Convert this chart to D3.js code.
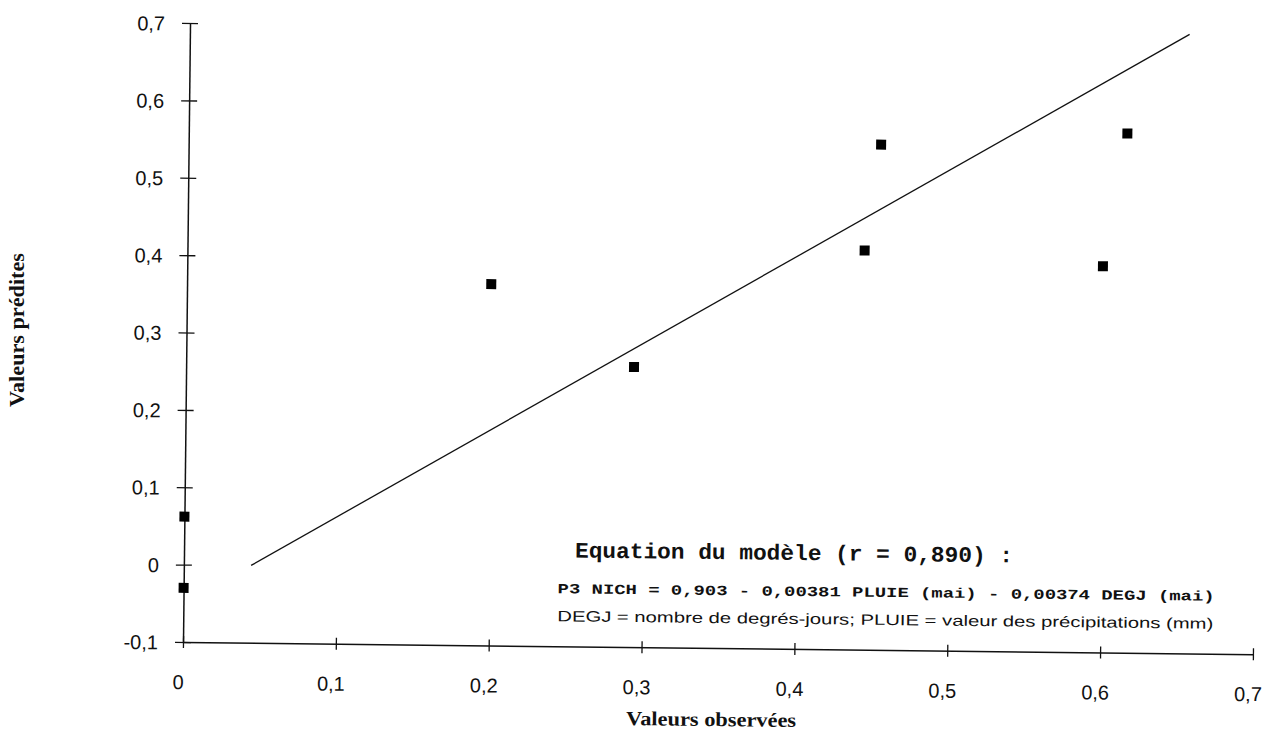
<!DOCTYPE html>
<html>
<head>
<meta charset="utf-8">
<script src="https://cdn.jsdelivr.net/npm/d3@7/dist/d3.min.js"></script>
<style>
  html, body { margin: 0; padding: 0; background: #fff; }
  svg { display: block; }
</style>
</head>
<body>
<svg id="chart" width="1273" height="735"></svg>
<script>
// ---- data ----
const xTickValues = [0, 0.1, 0.2, 0.3, 0.4, 0.5, 0.6, 0.7];
const xTickLabels = ["0", "0,1", "0,2", "0,3", "0,4", "0,5", "0,6", "0,7"];
const yTickValues = [-0.1, 0, 0.1, 0.2, 0.3, 0.4, 0.5, 0.6, 0.7];
const yTickLabels = ["-0,1", "0", "0,1", "0,2", "0,3", "0,4", "0,5", "0,6", "0,7"];
const observed  = [0, 0, 0.199, 0.293, 0.443, 0.453, 0.599, 0.614];
const predicted = [0.062, -0.030, 0.367, 0.262, 0.416, 0.553, 0.399, 0.571];
const fitX = [0.044, 0.654];
const fitY = [0.0, 0.70];
const xTitle = "Valeurs observées";
const yTitle = "Valeurs prédites";
const eqTitle = "Equation du modèle (r = 0,890) :";
const eqLine = "P3 NICH = 0,903 - 0,00381 PLUIE (mai) - 0,00374 DEGJ (mai)";
const eqNote = "DEGJ = nombre de degrés-jours; PLUIE = valeur des précipitations (mm)";

// ---- layout ----
const svg = d3.select("#chart");
const x0 = 183, y0 = 642;
const x = d3.scaleLinear().domain([0, 0.7]).range([x0, 1253]);
const y = d3.scaleLinear().domain([-0.1, 0.7]).range([y0, 23]);

// slight scan tilt as in the reference
const g = svg.append("g").attr("transform", `rotate(0.65, ${x0}, ${y0})`);

const sansFont = "'Liberation Sans', Arial, sans-serif";
const serifFont = "'Liberation Serif', 'Times New Roman', serif";
const monoFont = "'Liberation Mono', 'Courier New', monospace";

// y axis
const yAxis = d3.axisLeft(y)
  .tickValues(yTickValues)
  .tickFormat((d, i) => yTickLabels[i])
  .tickSizeInner(8).tickSizeOuter(0);
const gy = g.append("g").attr("transform", `translate(${x(0)},0)`).call(yAxis);
gy.select(".domain").attr("stroke", "#111").attr("stroke-width", 1.5);
gy.selectAll(".tick line").attr("x1", -8).attr("x2", 8).attr("stroke", "#111").attr("stroke-width", 1.3);
gy.selectAll(".tick text")
  .attr("x", -25).attr("dy", "0.36em")
  .attr("font-family", sansFont)
  .attr("font-size", 20).attr("fill", "#111");

// x axis
const xAxis = d3.axisBottom(x)
  .tickValues(xTickValues)
  .tickFormat((d, i) => xTickLabels[i])
  .tickSizeInner(6).tickSizeOuter(0);
const gx = g.append("g").attr("transform", `translate(0,${y(-0.1)})`).call(xAxis);
gx.select(".domain").attr("stroke", "#111").attr("stroke-width", 1.5);
gx.selectAll(".tick line").attr("y1", -6).attr("y2", 6).attr("stroke", "#111").attr("stroke-width", 1.3);
gx.selectAll(".tick text")
  .attr("x", -5).attr("y", 47).attr("dy", 0)
  .attr("font-family", sansFont)
  .attr("font-size", 20).attr("fill", "#111");

// regression line
g.append("path")
  .datum(fitX.map((v, i) => [v, fitY[i]]))
  .attr("fill", "none").attr("stroke", "#111").attr("stroke-width", 1.3)
  .attr("d", d3.line().x(d => x(d[0])).y(d => y(d[1])));

// points
const sz = 10;
g.selectAll("rect.pt")
  .data(observed.map((v, i) => [v, predicted[i]]))
  .join("rect").attr("class", "pt")
  .attr("x", d => x(d[0]) - sz / 2)
  .attr("y", d => y(d[1]) - sz / 2)
  .attr("width", sz).attr("height", sz)
  .attr("fill", "#000");

// equation block
g.append("text")
  .attr("x", 574).attr("y", 553)
  .attr("font-family", monoFont)
  .attr("font-weight", "bold").attr("font-size", 22)
  .attr("textLength", 438).attr("lengthAdjust", "spacingAndGlyphs")
  .attr("fill", "#111").text(eqTitle);
g.append("text")
  .attr("x", 557).attr("y", 589)
  .attr("font-family", monoFont)
  .attr("font-weight", "bold").attr("font-size", 14)
  .attr("textLength", 657).attr("lengthAdjust", "spacingAndGlyphs")
  .attr("fill", "#111").text(eqLine);
g.append("text")
  .attr("x", 557).attr("y", 617)
  .attr("font-family", sansFont)
  .attr("font-size", 15)
  .attr("textLength", 656).attr("lengthAdjust", "spacingAndGlyphs")
  .attr("fill", "#111").text(eqNote);

// axis titles
g.append("text")
  .attr("x", 712).attr("y", 720).attr("text-anchor", "middle")
  .attr("font-family", serifFont)
  .attr("font-weight", "bold").attr("font-size", 20)
  .attr("textLength", 170).attr("lengthAdjust", "spacingAndGlyphs")
  .attr("fill", "#111").text(xTitle);
svg.append("text")
  .attr("transform", "translate(24,330) rotate(-90)")
  .attr("text-anchor", "middle")
  .attr("font-family", serifFont)
  .attr("font-weight", "bold").attr("font-size", 21)
  .attr("textLength", 154).attr("lengthAdjust", "spacingAndGlyphs")
  .attr("fill", "#111").text(yTitle);
</script>
</body>
</html>
